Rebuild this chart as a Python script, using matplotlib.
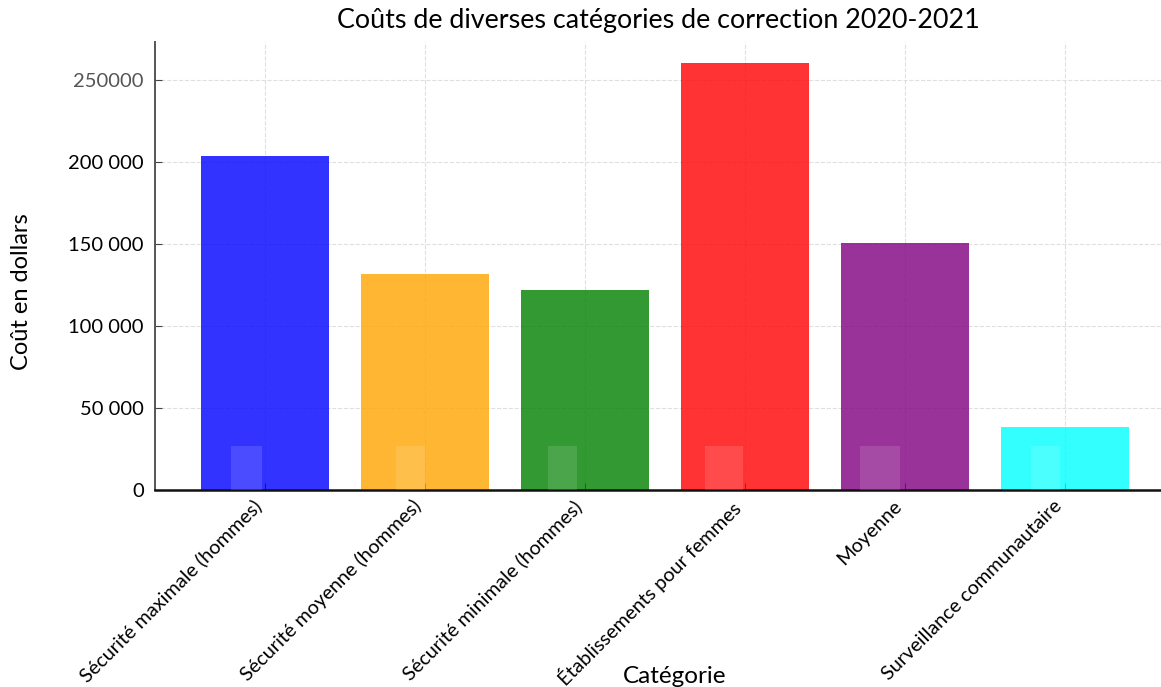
import matplotlib
matplotlib.use("Agg")
import matplotlib.pyplot as plt
import numpy as np

# Data
categories = [
    "Sécurité maximale (hommes)",
    "Sécurité moyenne (hommes)",
    "Sécurité minimale (hommes)",
    "Établissements pour femmes",
    "Moyenne",
    "Surveillance communautaire",
]
costs = [204000, 131700, 122000, 260400, 150600, 38400]
bar_colors = ["blue", "orange", "green", "red", "purple", "cyan"]

# faint lighter patches sitting at the foot of each bar
ghost_heights = [27000, 27000, 27000, 27000, 27000, 27000]
ghost_widths = [0.19, 0.18, 0.18, 0.24, 0.25, 0.18]
ghost_shift = [-0.02, 0.0, -0.05, -0.01, -0.03, -0.03]

ytick_values = [0, 50000, 100000, 150000, 200000, 250000]
ytick_labels = ["0", "50 000", "100 000", "150 000", "200 000", "250000"]

plt.rcParams["font.family"] = ["Lato", "DejaVu Sans"]

fig = plt.figure(figsize=(11.61, 6.87), dpi=100)
ax = fig.add_axes([0.1335, 0.2868, 0.8665, 0.652])

x = np.arange(len(categories))
ax.bar(x, costs, width=0.8, color=bar_colors, alpha=0.8, zorder=2)
# negative width: the patch grows to the left of its edge
ax.bar(x + np.array(ghost_shift), ghost_heights,
       width=-np.array(ghost_widths), align="edge", color="white",
       alpha=0.12, zorder=3)

ax.set_xlim(-0.6875, 5.6)
ax.set_ylim(0, 273200)
ax.set_xticks(x)
ax.set_xticklabels(categories, rotation=45, ha="right", fontsize=14.3)
ax.set_yticks(ytick_values)
ax.set_yticklabels(ytick_labels, fontsize=14.5)
ax.get_yticklabels()[-1].set_color("#555555")

ax.grid(True, linestyle="--", color="#d8d8d8", linewidth=0.8)
for gl in ax.get_xgridlines() + ax.get_ygridlines():
    gl.set_zorder(4)
    gl.set_alpha(0.8)

ax.tick_params(axis="both", direction="in", length=5, color="#444444",
               pad=8)
ax.tick_params(axis="x", pad=5)
ax.spines["top"].set_visible(False)
ax.spines["right"].set_visible(False)
ax.spines["left"].set_color("#555555")
ax.spines["left"].set_linewidth(1.4)
ax.spines["bottom"].set_color("#111111")
ax.spines["bottom"].set_linewidth(1.8)

ax.set_title("Coûts de diverses catégories de correction 2020-2021",
             fontsize=19.4, pad=10)
ax.set_ylabel("Coût en dollars", fontsize=17)
ax.yaxis.set_label_coords(-0.122, 0.442)
ax.set_xlabel("Catégorie", fontsize=17.5)
ax.xaxis.set_label_coords(0.517, -0.392)

fig.savefig("out.png", dpi=100)
